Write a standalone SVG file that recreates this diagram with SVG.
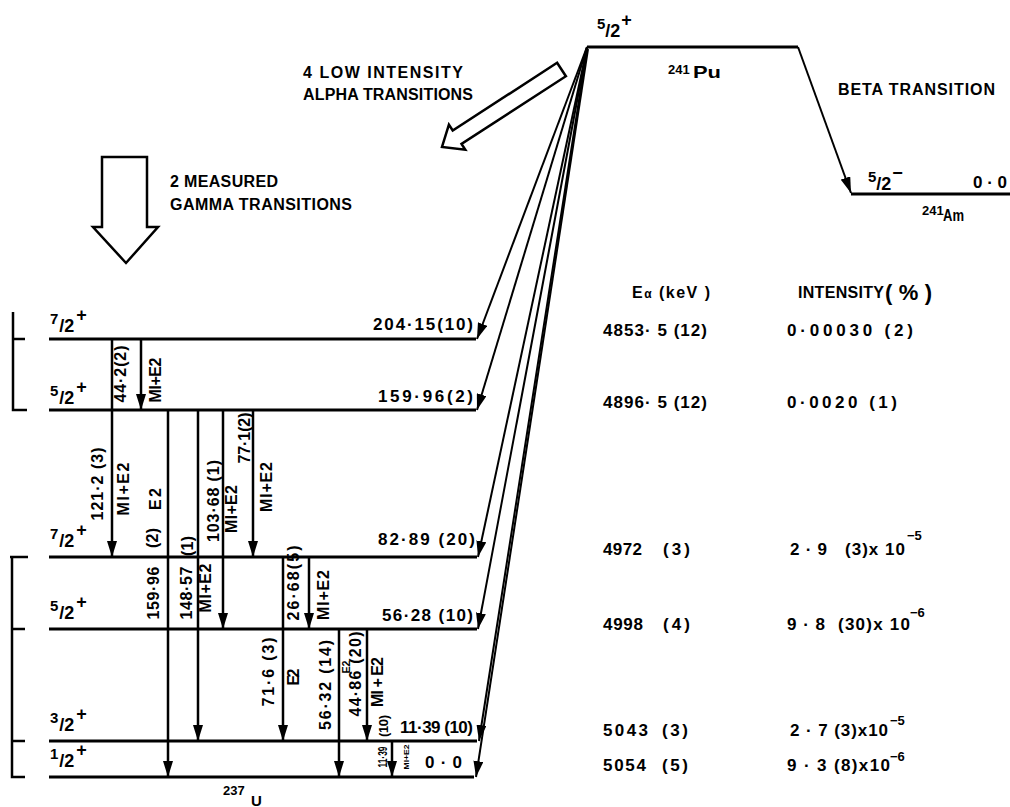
<svg xmlns="http://www.w3.org/2000/svg" width="1010" height="807" viewBox="0 0 1010 807">
<defs>
<style>
.t{font-family:"Liberation Sans",Arial,sans-serif;font-weight:bold;fill:#000}
.f17{font-size:17px}
.f16{font-size:16px}
.f15{font-size:15px}
.f13{font-size:13px}
.sp{font-size:18px}
.ln{stroke:#000;stroke-width:3;fill:none}
.br{stroke:#000;stroke-width:2.5;fill:none}
.g{stroke:#000;stroke-width:2.5;fill:none;marker-end:url(#ah)}
.a{stroke:#000;stroke-width:2;fill:none;marker-end:url(#ah)}
.hollow{fill:#fff;stroke:#000;stroke-width:2.5;stroke-linejoin:miter}
</style>
<marker id="ah" markerUnits="userSpaceOnUse" markerWidth="16" markerHeight="10" refX="16" refY="5" orient="auto" viewBox="0 0 16 10"><path d="M0,0 L16,5 L0,10 z" fill="#000"/></marker>
</defs>
<rect width="1010" height="807" fill="#fff"/>

<!-- annotations -->
<g id="annotations">
<polygon class="hollow" points="557.1,62.8 452.7,130.5 448.9,124.6 442,147 465.3,149.8 461.5,143.9 565.9,76.2"/>
<text class="t f16" x="303" y="78" textLength="160">4 LOW INTENSITY</text>
<text class="t f16" x="303" y="100" textLength="170">ALPHA TRANSITIONS</text>
<polygon class="hollow" points="102,157 147,157 147,227 158,227 126,263 93,227 102,227"/>
<text class="t f16" x="170" y="187" textLength="108">2 MEASURED</text>
<text class="t f16" x="170" y="210" textLength="182">GAMMA TRANSITIONS</text>
<text class="t f16" x="838" y="95" textLength="157">BETA TRANSITION</text>
</g>

<!-- brackets -->
<g id="brackets">
<path class="br" d="M13,312 V410 H27 M13,339 H25"/>
<path class="br" d="M10,557 H28 M12,557 V777 H25 M12,629 H25 M12,741 H25"/>
</g>

<!-- parent -->
<g id="parent-241Pu">
<line class="ln" x1="587" y1="47" x2="798" y2="47"/>
<text class="t sp" x="597" y="37"><tspan font-size="15" dy="-8">5</tspan><tspan dy="8">/2</tspan><tspan dy="-11" dx="1">+</tspan></text>
<text class="t" x="668" y="74" font-size="13">241</text>
<text class="t" x="693" y="78" font-size="17" textLength="28" lengthAdjust="spacingAndGlyphs">Pu</text>
</g>

<!-- daughter -->
<g id="daughter-241Am">
<line class="ln" x1="851" y1="194" x2="1010" y2="194"/>
<text class="t sp" x="868" y="190"><tspan font-size="15" dy="-8">5</tspan><tspan dy="8">/2</tspan><tspan dy="-11" dx="1">−</tspan></text>
<text class="t f17" x="973" y="188" textLength="34">0·0</text>
<text class="t" x="922" y="215" font-size="13">241</text>
<text class="t" x="943" y="221" font-size="16" textLength="21" lengthAdjust="spacingAndGlyphs">Am</text>
</g>

<!-- 237U levels -->
<g id="level-204">
<line class="ln" x1="49" y1="339" x2="476" y2="339"/>
<text class="t sp" x="50" y="332"><tspan font-size="15" dy="-8">7</tspan><tspan dy="8" dx="1">/2</tspan><tspan dy="-11" dx="2">+</tspan></text>
<text class="t f17" x="373" y="330" textLength="100">204·15(10)</text>
</g>
<g id="level-160">
<line class="ln" x1="49" y1="410" x2="476" y2="410"/>
<text class="t sp" x="50" y="404"><tspan font-size="15" dy="-8">5</tspan><tspan dy="8" dx="1">/2</tspan><tspan dy="-11" dx="2">+</tspan></text>
<text class="t f17" x="378" y="402" textLength="95">159·96(2)</text>
</g>
<g id="level-83">
<line class="ln" x1="49" y1="557" x2="477" y2="557"/>
<text class="t sp" x="50" y="547"><tspan font-size="15" dy="-8">7</tspan><tspan dy="8" dx="1">/2</tspan><tspan dy="-11" dx="2">+</tspan></text>
<text class="t f17" x="378" y="545" textLength="97">82·89 (20)</text>
</g>
<g id="level-56">
<line class="ln" x1="49" y1="629" x2="477" y2="629"/>
<text class="t sp" x="50" y="619"><tspan font-size="15" dy="-8">5</tspan><tspan dy="8" dx="1">/2</tspan><tspan dy="-11" dx="2">+</tspan></text>
<text class="t f17" x="382" y="621" textLength="91">56·28 (10)</text>
</g>
<g id="level-11">
<line class="ln" x1="49" y1="741" x2="477" y2="741"/>
<text class="t sp" x="50" y="731"><tspan font-size="15" dy="-8">3</tspan><tspan dy="8" dx="1">/2</tspan><tspan dy="-11" dx="2">+</tspan></text>
<text class="t f17" x="400" y="733" textLength="73">11·39 (10)</text>
</g>
<g id="level-0">
<line class="ln" x1="49" y1="777" x2="474" y2="777"/>
<text class="t sp" x="50" y="767"><tspan font-size="15" dy="-8">1</tspan><tspan dy="8" dx="1">/2</tspan><tspan dy="-11" dx="2">+</tspan></text>
<text class="t f17" x="425" y="768" textLength="37">0·0</text>
<text class="t" x="223" y="795" font-size="13">237</text>
<text class="t" x="251" y="806" font-size="15">U</text>
</g>

<!-- connectors -->
<g id="connectors">
<path class="a" d="M587,47 L477,339"/>
<path class="a" d="M587,47 L477,410"/>
<path class="a" d="M587,48 L478,557"/>
<path class="a" d="M587,48 L478,629"/>
<path class="a" d="M587,49 L479,741"/>
<path class="a" d="M588,49 L476,777"/>
<path class="a" d="M798,47 L851,193"/>

<path class="g" d="M112,339 V557"/>
<path class="g" d="M141,339 V410"/>
<path class="g" d="M168,410 V777"/>
<path class="g" d="M198,410 V741"/>
<path class="g" d="M223,410 V629"/>
<path class="g" d="M253,410 V557"/>
<path class="g" d="M283,557 V741"/>
<path class="g" d="M309,557 V629"/>
<path class="g" d="M339,629 V777"/>
<path class="g" d="M367,629 V741"/>
<path class="g" d="M392,741 V777"/>
</g>

<!-- gamma labels -->
<g id="gamma-labels" text-anchor="middle">
<text class="t f16" transform="translate(103,484) rotate(-90)" textLength="73">121·2 (3)</text>
<text class="t f16" transform="translate(129,489) rotate(-90)" textLength="53">MI+E2</text>
<text class="t f16" transform="translate(126,374) rotate(-90)" textLength="57">44·2(2)</text>
<text class="t f16" transform="translate(161,380) rotate(-90)" textLength="45">MI+E2</text>
<text class="t f16" transform="translate(161,499) rotate(-90)" textLength="22">E2</text>
<text class="t f16" transform="translate(158,538) rotate(-90)" textLength="20">(2)</text>
<text class="t f16" transform="translate(159,593) rotate(-90)" textLength="53">159·96</text>
<text class="t f16" transform="translate(193,546) rotate(-90)" textLength="20">(1)</text>
<text class="t f16" transform="translate(192,593) rotate(-90)" textLength="53">148·57</text>
<text class="t f16" transform="translate(211,588) rotate(-90)" textLength="49">MI+E2</text>
<text class="t f16" transform="translate(219,501) rotate(-90)" textLength="82">103·68 (1)</text>
<text class="t f16" transform="translate(237,509) rotate(-90)" textLength="48">MI+E2</text>
<text class="t f16" transform="translate(250,438) rotate(-90)" textLength="51">77·1(2)</text>
<text class="t f16" transform="translate(272,487) rotate(-90)" textLength="50">MI+E2</text>
<text class="t f16" transform="translate(274,672) rotate(-90)" textLength="69">71·6 (3)</text>
<text class="t f16" transform="translate(299,677) rotate(-90)" textLength="17">E2</text>
<text class="t f16" transform="translate(299,583) rotate(-90)" textLength="75">26·68(5)</text>
<text class="t f16" transform="translate(329,595) rotate(-90)" textLength="50">MI+E2</text>
<text class="t f16" transform="translate(331,685) rotate(-90)" textLength="90">56·32 (14)</text>
<text class="t" font-size="10" transform="translate(350,667) rotate(-90)" textLength="13" lengthAdjust="spacingAndGlyphs">E2</text>
<text class="t f16" transform="translate(361,674) rotate(-90)" textLength="85">44·86 (20)</text>
<text class="t f16" transform="translate(383,682) rotate(-90)" textLength="50">MI + E2</text>
<text class="t" font-size="13" transform="translate(388,726) rotate(-90)" textLength="22">(10)</text>
<text class="t" font-size="12" transform="translate(387,757) rotate(-90)" textLength="21" lengthAdjust="spacingAndGlyphs">11·39</text>
<text class="t" font-size="8" transform="translate(409,757) rotate(-90)" textLength="25" lengthAdjust="spacingAndGlyphs">MI+E2</text>
</g>

<!-- table -->
<g id="table">
<text class="t f16" x="632" y="298" textLength="78">E<tspan font-size="12">α</tspan> (keV )</text>
<text class="t f16" x="798" y="298" textLength="86">INTENSITY</text>
<text class="t" font-size="22" x="885" y="300" textLength="47">(%)</text>

<text class="t f17" x="603" y="336" textLength="104">4853· 5 (12)</text>
<text class="t f17" x="787" y="336" textLength="126">0·00030 (2)</text>
<text class="t f17" x="603" y="408" textLength="104">4896· 5 (12)</text>
<text class="t f17" x="787" y="408" textLength="110">0·0020 (1)</text>

<text class="t f17" x="603" y="555" textLength="39">4972</text>
<text class="t f17" x="663" y="555" textLength="27">(3)</text>
<text class="t f17" x="790" y="555" textLength="37">2 · 9</text>
<text class="t f17" x="845" y="555" textLength="60">(3)x 10</text>
<text class="t f13" x="907" y="540">−5</text>

<text class="t f17" x="603" y="630" textLength="40">4998</text>
<text class="t f17" x="663" y="630" textLength="27">(4)</text>
<text class="t f17" x="787" y="630" textLength="38">9 · 8</text>
<text class="t f17" x="838" y="630" textLength="72">(30)x 10</text>
<text class="t f13" x="910" y="617">−6</text>

<text class="t f17" x="603" y="736" textLength="45">5043</text>
<text class="t f17" x="662" y="736" textLength="26">(3)</text>
<text class="t f17" x="790" y="736" textLength="98">2 · 7 (3)x10</text>
<text class="t f13" x="890" y="725">−5</text>

<text class="t f17" x="603" y="771" textLength="43">5054</text>
<text class="t f17" x="662" y="771" textLength="26">(5)</text>
<text class="t f17" x="787" y="771" textLength="103">9 · 3 (8)x10</text>
<text class="t f13" x="890" y="761">−6</text>
</g>
</svg>
